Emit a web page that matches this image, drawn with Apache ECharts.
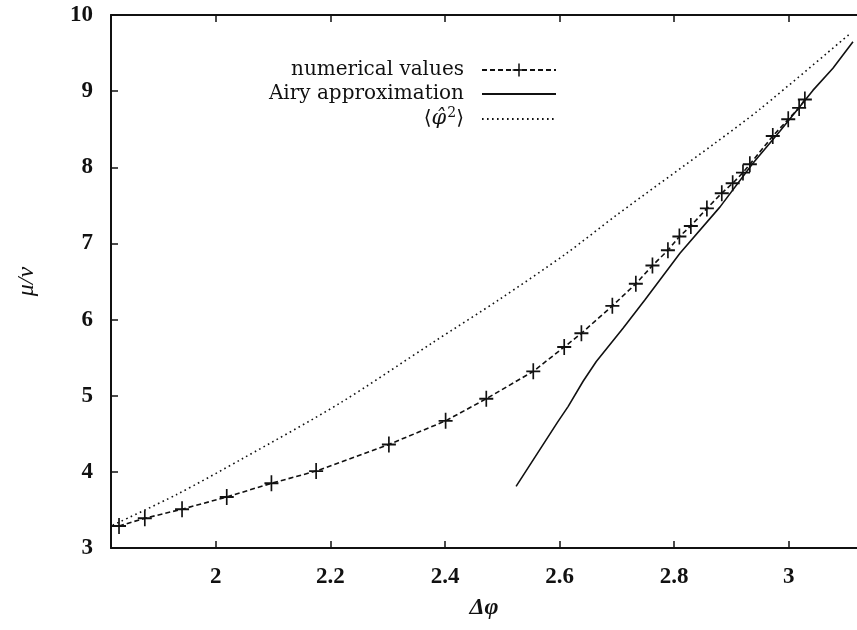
<!DOCTYPE html>
<html>
<head>
<meta charset="utf-8">
<script src="https://cdn.jsdelivr.net/npm/echarts@6/dist/echarts.min.js"></script>
<style>html,body{margin:0;padding:0;background:#fff}#c{width:857px;height:630px}</style>
</head>
<body>
<div id="c"></div>
<script>
// ---- data ----
const numX = [1.831, 1.876, 1.941, 2.019, 2.097, 2.175, 2.302, 2.401, 2.472, 2.554, 2.608, 2.638, 2.692, 2.733, 2.762, 2.789, 2.809, 2.829, 2.857, 2.883, 2.902, 2.920, 2.932, 2.972, 2.999, 3.018, 3.028];
const numY = [3.29, 3.39, 3.51, 3.67, 3.85, 4.01, 4.36, 4.67, 4.96, 5.32, 5.64, 5.82, 6.18, 6.47, 6.71, 6.91, 7.09, 7.23, 7.46, 7.66, 7.79, 7.93, 8.04, 8.41, 8.63, 8.78, 8.89];
const airyX = [2.524, 2.597, 2.615, 2.641, 2.664, 2.711, 2.749, 2.810, 2.880, 2.937, 2.984, 3.042, 3.077, 3.112];
const airyY = [3.81, 4.66, 4.86, 5.19, 5.45, 5.89, 6.26, 6.87, 7.48, 8.05, 8.47, 9.01, 9.30, 9.65];
const phiX = [1.820, 1.931, 2.048, 2.216, 2.379, 2.496, 2.612, 2.699, 2.868, 2.949, 3.106];
const phiY = [3.30, 3.70, 4.18, 4.90, 5.70, 6.27, 6.87, 7.37, 8.30, 8.76, 9.75];
const xTicks = [2, 2.2, 2.4, 2.6, 2.8, 3];
const yTicks = [3, 4, 5, 6, 7, 8, 9, 10];
const seriesNames = ['numerical values', 'Airy approximation', '⟨φ̂²⟩'];
const xName = 'Δφ';
const yName = 'μ/ν';

const zip = (a, b) => a.map((v, i) => [v, b[i]]);
const plus = 'path://M0,4.4H10V5.6H0Z M4.4,0H5.6V10H4.4Z';
const ink = '#111';
const tickFont = { fontFamily: 'Liberation Serif', fontWeight: 'bold', fontSize: 23, color: ink };
const legendFont = 'DejaVu Serif';

const chart = echarts.init(document.getElementById('c'), null, { renderer: 'canvas' });
chart.setOption({
  animation: false,
  backgroundColor: '#fff',
  grid: { left: 111, right: 0, top: 15, bottom: 82, containLabel: false },
  legend: {
    orient: 'vertical',
    align: 'right',
    right: 300,
    top: 58,
    padding: 0,
    itemWidth: 74,
    itemHeight: 16,
    itemGap: 0,
    textStyle: {
      fontFamily: legendFont, fontSize: 20, color: ink, lineHeight: 24, padding: [0, 13, 0, 0],
      rich: {
        a: { fontFamily: legendFont, fontSize: 20, color: ink, lineHeight: 24 },
        p: { fontFamily: legendFont, fontStyle: 'italic', fontSize: 21, color: ink, lineHeight: 24 },
        s: { fontFamily: legendFont, fontSize: 14, color: ink, lineHeight: 14, padding: [0, 0, 12, 1] }
      }
    },
    formatter: name => name === seriesNames[2] ? '{a|⟨}{p|φ̂}{s|2}{a|⟩}' : name,
    data: [
      { name: seriesNames[0] },
      { name: seriesNames[1], itemStyle: { opacity: 0 } },
      { name: seriesNames[2], itemStyle: { opacity: 0 } }
    ]
  },
  xAxis: [{
    type: 'value', min: 1.817, max: 3.119, position: 'bottom',
    name: xName, nameLocation: 'middle', nameGap: 48,
    nameTextStyle: { fontFamily: 'Liberation Serif', fontStyle: 'italic', fontWeight: 'bold', fontSize: 24, color: ink },
    axisLine: { show: true, lineStyle: { color: ink, width: 2 } },
    axisTick: { show: true, inside: true, length: 7, customValues: xTicks, lineStyle: { color: ink, width: 1.5 } },
    axisLabel: { show: true, customValues: xTicks, margin: 18, ...tickFont, formatter: v => String(v) },
    splitLine: { show: false }
  }, {
    type: 'value', min: 1.817, max: 3.119, position: 'top',
    axisLine: { show: true, lineStyle: { color: ink, width: 2 } },
    axisTick: { show: true, inside: true, length: 7, customValues: xTicks, lineStyle: { color: ink, width: 1.5 } },
    axisLabel: { show: false },
    splitLine: { show: false }
  }],
  yAxis: {
    type: 'value', min: 3, max: 10, interval: 1,
    name: yName, nameLocation: 'middle', nameGap: 72, nameRotate: 90,
    nameTextStyle: { fontFamily: 'Liberation Serif', fontStyle: 'italic', fontSize: 24, color: ink },
    axisLine: { show: true, lineStyle: { color: ink, width: 2 } },
    axisTick: { show: true, inside: true, length: 7, lineStyle: { color: ink, width: 1.5 } },
    axisLabel: { show: true, margin: 18, ...tickFont, customValues: yTicks },
    splitLine: { show: false }
  },
  series: [{
    name: seriesNames[0], type: 'line', xAxisIndex: 0,
    data: zip(numX, numY),
    symbol: plus, symbolSize: [14, 16],
    itemStyle: { color: ink },
    lineStyle: { color: ink, width: 1.6, type: [5, 3] },
    z: 3
  }, {
    name: seriesNames[1], type: 'line', xAxisIndex: 0,
    data: zip(airyX, airyY),
    symbol: 'none', showSymbol: false,
    itemStyle: { color: ink },
    lineStyle: { color: ink, width: 1.6, type: 'solid' },
    z: 2
  }, {
    name: seriesNames[2], type: 'line', xAxisIndex: 0,
    data: zip(phiX, phiY),
    symbol: 'none', showSymbol: false, smooth: 0.3,
    itemStyle: { color: ink },
    lineStyle: { color: ink, width: 1.6, type: [1.6, 3.4] },
    z: 1
  }]
});
</script>
</body>
</html>
